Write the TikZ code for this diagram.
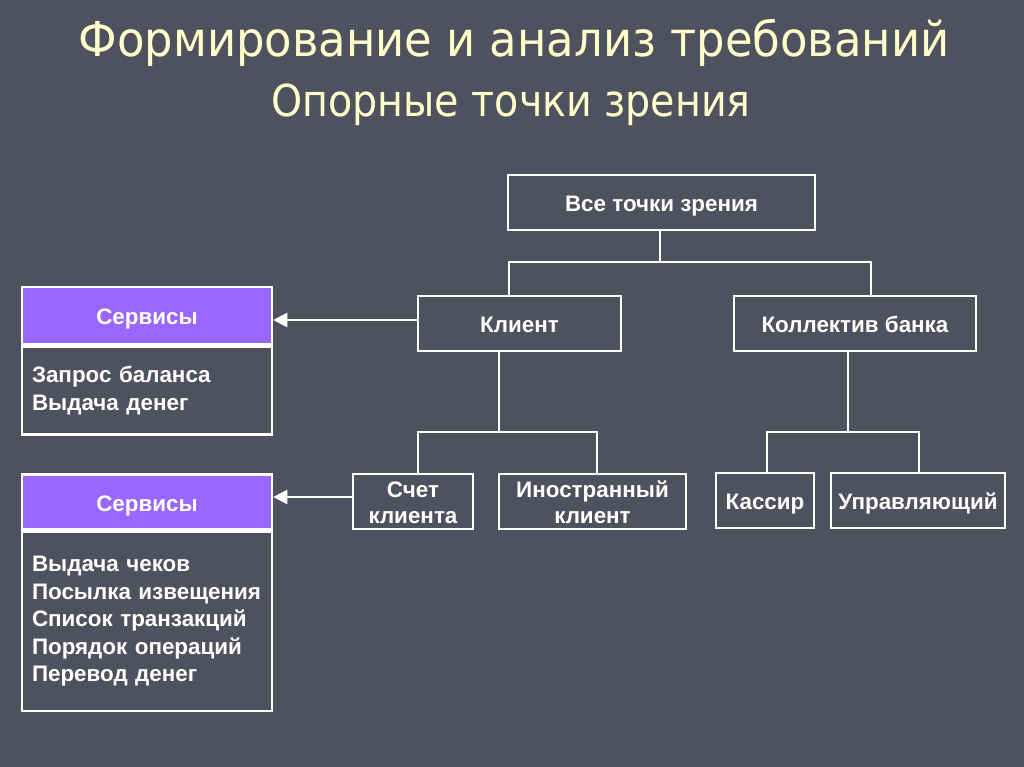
\documentclass[tikz,border=0pt]{standalone}
\usepackage{fontspec}
\setmainfont{Liberation Sans}
\newfontfamily\titlefont[FakeStretch=0.9]{DejaVu Sans}
\newfontfamily\bigtitlefont[FakeStretch=0.935]{DejaVu Sans}
\usetikzlibrary{arrows.meta}
\usetikzlibrary{positioning}
\definecolor{bgslate}{RGB}{80,81,95}
\definecolor{mviolet}{RGB}{153,102,255}
\definecolor{mcream}{RGB}{255,255,204}
\tikzset{box/.style = {draw=white, line width=2.5pt, text=white, align=center,
                       inner sep=0, text height=18, text depth=0,
                       font=\bfseries\fontsize{22.4}{26}\selectfont}}
\tikzset{twoline/.style = {text height=45, text depth=2}}
\tikzset{head/.style = {box, fill=mviolet, minimum width=250, minimum height=57}}
\tikzset{list/.style = {draw=white, line width=2.5pt, text=white, align=left,
                        inner xsep=10, inner ysep=0, text width=230, anchor=north,
                        font=\bfseries\fontsize{22.4}{27.5}\selectfont}}
\tikzset{wire/.style = {draw=white, line width=2.5pt}}
\tikzset{tip/.style = {wire, -{Triangle[length=14pt, width=14pt]}}}

\begin{document}
\begin{tikzpicture}[x=1pt, y=-1pt]
  \fill [bgslate] (0,0) rectangle (1024,767);
  \useasboundingbox (0,0) rectangle (1024,767);
  \node [font=\bigtitlefont\fontsize{48}{50}\selectfont, text=mcream, anchor=base]
        (title) at (514,57) {Формирование и анализ требований};
  \node [font=\titlefont\fontsize{44}{46}\selectfont, text=mcream, anchor=base]
        (subtitle) at (511,117) {Опорные точки зрения};

  \node [box, minimum width=307, minimum height=55] (all) at (661.5,202.5) {Все точки зрения};
  \node [box, minimum width=203, minimum height=55] (client) at (519.5,323.5) {Клиент};
  \node [box, minimum width=242, minimum height=55] (bank) at (855,323.5) {Коллектив банка};
  \node [box, twoline, minimum width=120, minimum height=55] (account) at (413,501.5) {Счет\\клиента};
  \node [box, twoline, minimum width=187, minimum height=55] (foreign) at (592.5,501.5) {Иностранный\\клиент};
  \node [box, minimum width=98, minimum height=55] (cashier) at (765,500.5) {Кассир};
  \node [box, minimum width=174, minimum height=55] (manager) at (918,500.5) {Управляющий};

  \coordinate (fork1) at (660,262);
  \coordinate (fork2) at (499,432);
  \coordinate (fork3) at (848,432);
  \draw [wire] (all.south -| fork1) -- (fork1);
  \draw [wire] ([xshift=-10.5]client.north) |- (fork1) -| ([xshift=16]bank.north);
  \draw [wire] (client.south -| fork2) -- (fork2);
  \draw [wire] ([xshift=5]account.north) |- (fork2) -| ([xshift=4.5]foreign.north);
  \draw [wire] (bank.south -| fork3) -- (fork3);
  \draw [wire] ([xshift=2]cashier.north) |- (fork3) -| ([xshift=1]manager.north);

  \node [head] (svc1) at (147,315.5) {Сервисы};
  \node [list, minimum height=88] (todo1) at (svc1.south) {Запрос баланса\\Выдача денег};
  \node [head, minimum height=55] (svc2) at (147,502) {Сервисы};
  \node [list, minimum height=179] (todo2) at (svc2.south)
        {Выдача чеков\\Посылка извещения\\Список транзакций\\Порядок операций\\Перевод денег};

  \draw [tip] ([yshift=3.5]client.west) -- ([yshift=3.5]client.west -| svc1.east);
  \draw [tip] ([yshift=4.5]account.west) -- ([yshift=4.5]account.west -| svc2.east);
\end{tikzpicture}
\end{document}
